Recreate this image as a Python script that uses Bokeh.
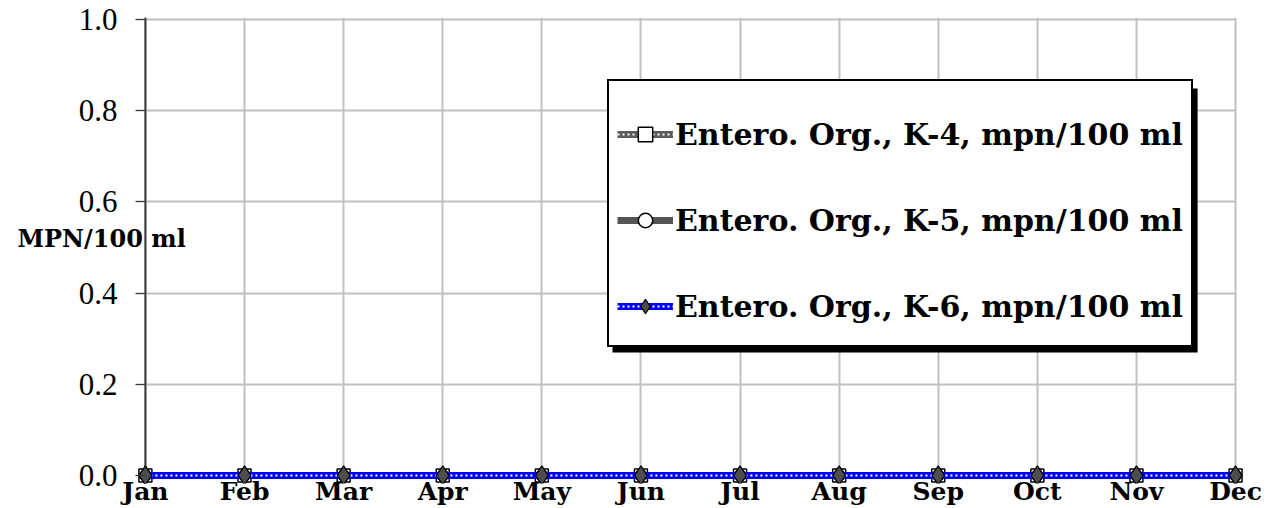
from bokeh.plotting import figure
from bokeh.models import (Range1d, FixedTicker, PrintfTickFormatter, Legend,
                          LegendItem, BoxAnnotation, Span)
from bokeh.embed import file_html
from bokeh.resources import INLINE

# ---- data ----
months = ["Jan", "Feb", "Mar", "Apr", "May", "Jun",
          "Jul", "Aug", "Sep", "Oct", "Nov", "Dec"]
k4 = [0, 0, 0, 0, 0, 0, 0, 0, 0, 0, 0, 0]
k5 = [0, 0, 0, 0, 0, 0, 0, 0, 0, 0, 0, 0]
k6 = [0, 0, 0, 0, 0, 0, 0, 0, 0, 0, 0, 0]
y_ticks = [0.0, 0.2, 0.4, 0.6, 0.8, 1.0]
series_labels = ["Entero. Org., K-4, mpn/100 ml",
                 "Entero. Org., K-5, mpn/100 ml",
                 "Entero. Org., K-6, mpn/100 ml"]
y_title = "MPN/100 ml"

x = list(range(len(months)))

BOLD_SERIF = "DejaVu Serif"

p = figure(width=1272, height=508, output_backend="svg", toolbar_location=None,
           x_range=Range1d(-0.1, 11.08), y_range=Range1d(-0.0177, 1.0044),
           min_border_left=135, min_border_right=29, min_border_top=17,
           min_border_bottom=0)
p.outline_line_color = None
p.background_fill_color = "white"
p.border_fill_color = "white"

# x axis
p.xaxis.ticker = FixedTicker(ticks=x)
p.xaxis.major_label_overrides = {i: m for i, m in zip(x, months)}
p.xaxis.axis_line_color = None
p.xaxis.major_tick_out = 0
p.xaxis.major_tick_in = 0
p.xaxis.minor_tick_line_color = None
p.xaxis.major_label_standoff = -7
p.xaxis.major_label_text_font = BOLD_SERIF
p.xaxis.major_label_text_font_style = "bold"
p.xaxis.major_label_text_font_size = "25px"
p.xaxis.major_label_text_color = "black"

# y axis (at frame left; the axis line itself is drawn at x=0 below)
p.yaxis.ticker = FixedTicker(ticks=y_ticks)
p.yaxis.formatter = PrintfTickFormatter(format="%.1f")
p.yaxis.axis_line_color = None
p.yaxis.major_tick_out = 0
p.yaxis.major_tick_in = 10
p.yaxis.major_tick_line_color = "#3a3a3a"
p.yaxis.major_tick_line_width = 1
p.yaxis.minor_tick_line_color = None
p.yaxis.major_label_standoff = 18
p.yaxis.major_label_text_font = "Liberation Serif"
p.yaxis.major_label_text_font_size = "31px"
p.yaxis.major_label_text_color = "black"
# trailing newline lifts the single visible line above the axis middle
p.yaxis.axis_label = y_title + "\n"
p.yaxis.axis_label_orientation = "horizontal"
p.yaxis.axis_label_standoff = -110
p.yaxis.axis_label_text_font = BOLD_SERIF
p.yaxis.axis_label_text_font_style = "bold"
p.yaxis.axis_label_text_font_size = "24px"
p.yaxis.axis_label_text_line_height = 0.85
p.yaxis.axis_label_text_color = "black"

# grids
p.xgrid.ticker = FixedTicker(ticks=x)
p.ygrid.ticker = FixedTicker(ticks=y_ticks)
for g in (p.xgrid, p.ygrid):
    g.grid_line_color = "#c0c0c0"
    g.grid_line_width = 2
try:
    p.ygrid.cross_bounds = (-0.1, 11)
    p.xgrid.cross_bounds = (-0.012, 1.0044)
except Exception:
    pass

p.add_layout(Span(location=0, dimension="height", line_color="#3a3a3a",
                  line_width=2, level="underlay"))

# series
r4_line = p.line(x, k4, line_color="#5a5a5a", line_width=7)
r4_dots = p.line(x, k4, line_color="white", line_width=2, line_dash="2 3")
r4_mark = p.scatter(x, k4, marker="square", size=13, fill_color="white",
                    line_color="black", line_width=1.5)

r5_line = p.line(x, k5, line_color="#555555", line_width=7)
r5_mark = p.scatter(x, k5, marker="circle", size=11, fill_color="white",
                    line_color="black", line_width=1.5)

r6_line = p.line(x, k6, line_color="#0000ff", line_width=7)
r6_dots = p.line(x, k6, line_color="white", line_width=2, line_dash="2 3")
r6_mark = p.scatter(x, k6, marker="diamond", size=19, fill_color="#4d4d4d",
                    line_color="black", line_width=1.2)

# legend shadow
shadow = BoxAnnotation(left=4.713, right=10.617, top=0.8487, bottom=0.2697,
                       fill_color="black", fill_alpha=1.0, line_color=None)
p.add_layout(shadow)

legend = Legend(items=[
    LegendItem(label=series_labels[0], renderers=[r4_line, r4_dots, r4_mark]),
    LegendItem(label=series_labels[1], renderers=[r5_line, r5_mark]),
    LegendItem(label=series_labels[2], renderers=[r6_line, r6_dots, r6_mark]),
], location=(472, 136))
legend.title = " "
legend.title_text_font_size = "12px"
legend.title_standoff = 0
legend.glyph_width = 56
legend.glyph_height = 36
legend.label_height = 62
legend.label_standoff = 2
legend.spacing = 24
legend.padding = 8
legend.margin = 0
legend.border_line_color = "black"
legend.border_line_alpha = 1.0
legend.border_line_width = 2
legend.background_fill_color = "white"
legend.background_fill_alpha = 1.0
legend.label_text_font = BOLD_SERIF
legend.label_text_font_style = "bold"
legend.label_text_font_size = "30px"
legend.label_text_color = "black"
p.add_layout(legend, "center")

open("out.html", "w").write(file_html(p, INLINE))
